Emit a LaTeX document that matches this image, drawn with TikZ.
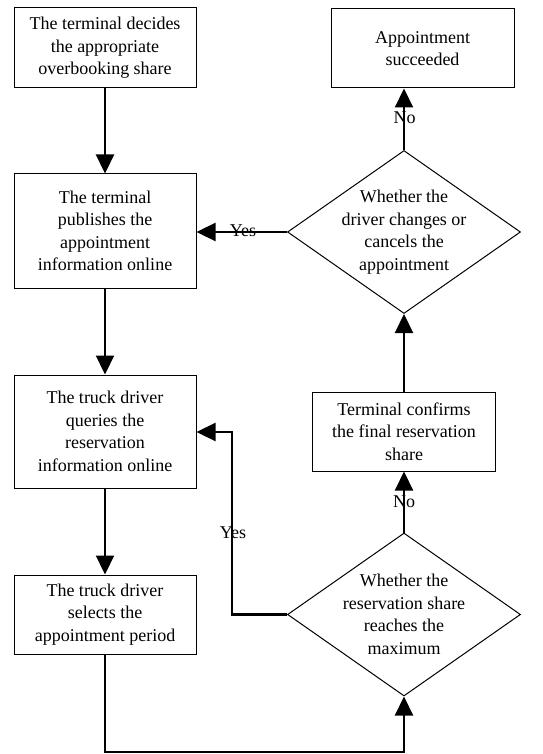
\documentclass[tikz,border=0pt]{standalone}
\usepackage{fontspec}
\setmainfont{Liberation Serif}
\usetikzlibrary{arrows.meta,shapes.geometric}
\begin{document}
\begin{tikzpicture}[x=1pt,y=1pt,
  box/.style={draw, line width=1pt, minimum width=182pt, inner sep=0pt, align=center, font=\fontsize{18}{22.5}\selectfont},
  dia/.style={draw, diamond, line width=1pt, minimum width=233pt, minimum height=163pt, inner sep=0pt},
  txt/.style={align=center, inner sep=0pt, font=\fontsize{18}{22.5}\selectfont},
  lbl/.style={inner sep=0pt, font=\fontsize{18}{22.5}\selectfont},
  arr/.style={line width=2.2pt, -{Triangle[length=19pt,width=18pt]}}]
\useasboundingbox (0,0) rectangle (542,-754);
\node[box, minimum height=80pt] (A) at (105,-48) {The terminal decides\\the appropriate\\overbooking share};
\node[box, minimum height=114pt] (B) at (105,-231) {The terminal\\publishes the\\appointment\\information online};
\node[box, minimum height=113pt] (C) at (105,-431.5) {The truck driver\\queries the\\reservation\\information online};
\node[box, minimum height=79pt] (D) at (105,-614.5) {The truck driver\\selects the\\appointment period};
\node[box, minimum width=183pt, minimum height=79pt] (E) at (422.5,-48.5) {Appointment\\succeeded};
\node[box, minimum width=183pt, minimum height=79pt] (F) at (404,-431.5) {Terminal confirms\\the final reservation\\share};
\node[dia] (d1) at (404,-232) {};
\node[txt] (t1) at (d1) {Whether the\\driver changes or\\cancels the\\appointment};
\node[dia] (d2) at (404,-614.5) {};
\node[txt] (t2) at (d2) {Whether the\\reservation share\\reaches the\\maximum};
\coordinate (bot) at (0,-752);
\coordinate (yl) at (232,-432);
\draw[arr] (A.south) -- (B.north);
\draw[arr] (B.south) -- (C.north);
\draw[arr] (C.south) -- (D.north);
\draw[arr] (D.south) -- (D.south |- bot) -| (d2.south);
\draw[arr] (d2.north) -- (F.south);
\draw[arr] (F.north) -- (d1.south);
\draw[arr] (d1.north) -- (d1.north |- E.south);
\draw[arr] (d1.west) -- (d1.west -| B.east);
\draw[arr] (d2.west) -| (yl) -- (yl -| C.east);
\node[lbl] (no1) at (404.5,-118) {No};
\node[lbl] (no2) at (404,-502) {No};
\node[lbl] (yes1) at (243,-231) {Yes};
\node[lbl] (yes2) at (233,-533) {Yes};
\end{tikzpicture}
\end{document}
